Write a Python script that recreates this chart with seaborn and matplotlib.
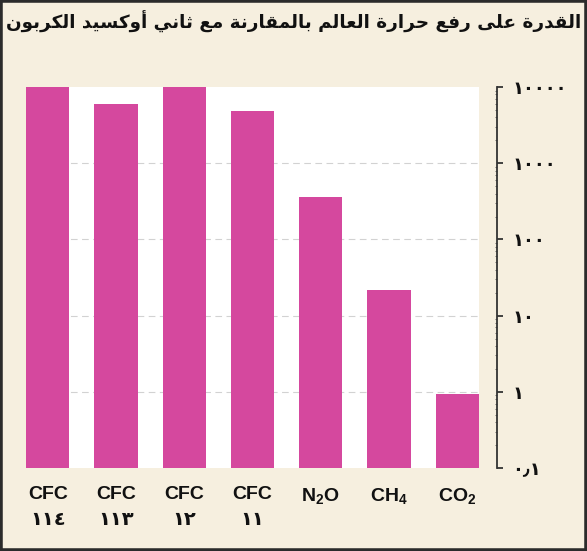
import matplotlib
matplotlib.use("Agg")
import matplotlib.pyplot as plt
import pandas as pd
import seaborn as sns
from matplotlib.patches import Rectangle

# --- data ---
title = "القدرة على رفع حرارة العالم بالمقارنة مع ثاني أوكسيد الكربون"
gases = ["CFC 114", "CFC 113", "CFC 12", "CFC 11", "N2O", "CH4", "CO2"]
gas_labels = ["CFC\n١١٤", "CFC\n١١٣", "CFC\n١٢", "CFC\n١١",
              r"N$_2$O", r"CH$_4$", r"CO$_2$"]
potency = [10000, 6000, 10000, 4800, 360, 22, 0.95]
y_ticks = [0.1, 1, 10, 100, 1000, 10000]
y_labels = ["٠٫١", "١", "١٠", "١٠٠", "١٠٠٠", "١٠٠٠٠"]

BG = "#f6efdf"
BAR = "#d5489e"
INK = "#111111"

# matplotlib has no arabic shaping: use presentation forms and reverse
FORMS = {
    'ا': (0xFE8D, 0xFE8E, None, None), 'أ': (0xFE83, 0xFE84, None, None),
    'ب': (0xFE8F, 0xFE90, 0xFE91, 0xFE92), 'ة': (0xFE93, 0xFE94, None, None),
    'ث': (0xFE99, 0xFE9A, 0xFE9B, 0xFE9C), 'ح': (0xFEA1, 0xFEA2, 0xFEA3, 0xFEA4),
    'د': (0xFEA9, 0xFEAA, None, None), 'ر': (0xFEAD, 0xFEAE, None, None),
    'س': (0xFEB1, 0xFEB2, 0xFEB3, 0xFEB4), 'ع': (0xFEC9, 0xFECA, 0xFECB, 0xFECC),
    'ف': (0xFED1, 0xFED2, 0xFED3, 0xFED4), 'ق': (0xFED5, 0xFED6, 0xFED7, 0xFED8),
    'ك': (0xFED9, 0xFEDA, 0xFEDB, 0xFEDC), 'ل': (0xFEDD, 0xFEDE, 0xFEDF, 0xFEE0),
    'م': (0xFEE1, 0xFEE2, 0xFEE3, 0xFEE4), 'ن': (0xFEE5, 0xFEE6, 0xFEE7, 0xFEE8),
    'و': (0xFEED, 0xFEEE, None, None), 'ى': (0xFEEF, 0xFEF0, None, None),
    'ي': (0xFEF1, 0xFEF2, 0xFEF3, 0xFEF4),
}

def shape(text):
    out = []
    for i, ch in enumerate(text):
        if ch not in FORMS:
            out.append(ch)
            continue
        iso, fin, ini, med = FORMS[ch]
        prev = text[i - 1] if i > 0 else ''
        nxt = text[i + 1] if i + 1 < len(text) else ''
        jp = prev in FORMS and FORMS[prev][2] is not None
        jn = ini is not None and nxt in FORMS
        code = med if (jp and jn) else fin if jp else ini if jn else iso
        out.append(chr(code))
    return ''.join(reversed(out))


sns.set_style("white")
plt.rcParams['font.family'] = ['DejaVu Sans']
plt.rcParams['mathtext.fontset'] = 'custom'
plt.rcParams['mathtext.rm'] = 'Liberation Sans:bold'
plt.rcParams['mathtext.default'] = 'rm'

fig = plt.figure(figsize=(5.87, 5.51), dpi=100, facecolor=BG)
ax = fig.add_axes([0.0443, 0.1506, 0.7717, 0.6914])
ax.set_facecolor("white")

df = pd.DataFrame({"gas": gases, "potency": potency})
ax.set_yscale("log")
sns.barplot(data=df, x="gas", y="potency", color=BAR, saturation=1,
            width=0.637, edgecolor="none", ax=ax, zorder=2)

ax.set_ylim(0.1, 10000)
ax.set_xlim(-0.637 / 2, len(gases) - 1 + 0.637 / 2)

for t in y_ticks[1:-1]:
    ax.axhline(t, color="#d2d2d2", lw=0.8, ls=(0, (6, 4)), zorder=1)

for s in ["left", "top", "bottom"]:
    ax.spines[s].set_visible(False)
ax.spines["right"].set_position(("outward", 13))
ax.spines["right"].set_color("#333333")
ax.spines["right"].set_linewidth(1.3)
ax.yaxis.tick_right()
ax.set_yticks(y_ticks, labels=y_labels)
ax.tick_params(axis="y", which="major", direction="out", length=4, width=1.3,
               color="#333333", pad=7, labelsize=13, labelcolor=INK)
ax.tick_params(axis="y", which="minor", direction="in", length=1.5,
               width=0.6, color="#555555")
for lab in ax.get_yticklabels():
    lab.set_fontweight("bold")

ax.set_xticks(range(len(gases)))
ax.set_xticklabels(gas_labels, fontfamily=["Liberation Sans", "DejaVu Sans"],
                   fontweight="bold", fontsize=14, va="top", color=INK)
for lab in ax.get_xticklabels():
    lab.set_linespacing(1.7)
ax.tick_params(axis="x", length=0, pad=13)
ax.set_xlabel("")
ax.set_ylabel("")

fig.text(0.99, 0.96, shape(title), ha="right", va="center", color=INK,
         fontsize=13.2, fontweight="bold", family="DejaVu Sans")

fig.patches.append(Rectangle((0, 0), 1, 1, transform=fig.transFigure,
                             fill=False, edgecolor="#2b2b2b", lw=4))

fig.savefig("out.png", dpi=100, facecolor=BG)
